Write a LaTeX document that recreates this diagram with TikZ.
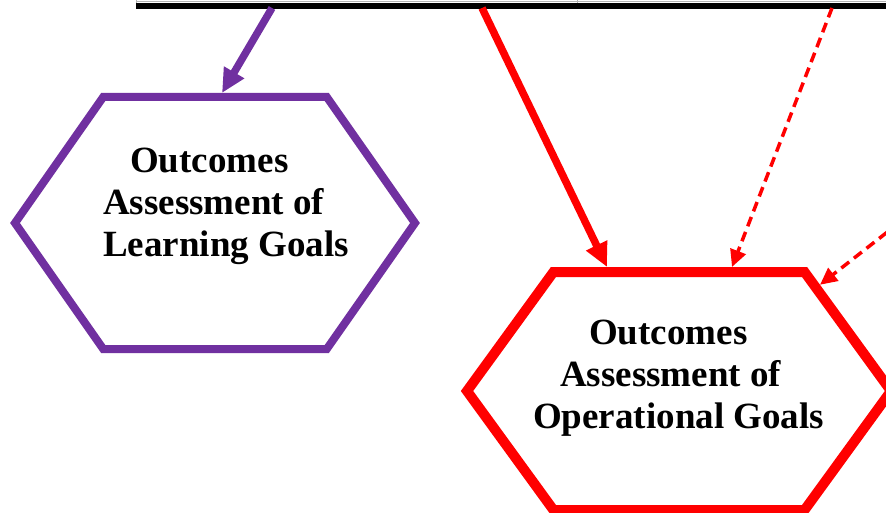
\documentclass[tikz,border=0pt]{standalone}
\usepackage{fontspec}
\setmainfont{Liberation Serif}
\usetikzlibrary{shapes.symbols,arrows.meta,positioning,calc}
\definecolor{goalpurple}{HTML}{7030A0}
\definecolor{goalred}{HTML}{FF0000}
\tikzset{
  hexa/.style = {signal, signal to=east and west, inner sep=0pt, fill=white},
  txt/.style = {font=\fontsize{37}{42}\selectfont\bfseries, align=left, inner sep=0pt, anchor=west},
  arrow/.style = {line width=7.5pt, -{Triangle[length=24pt,width=22pt]}},
  darrow/.style = {line width=3.5pt, dash pattern=on 10pt off 6pt, -{Triangle[length=17pt,width=16pt]}}
}

\begin{document}
\begin{tikzpicture}[x=1pt, y=-1pt]
  \useasboundingbox (0,0) rectangle (886,513);
  \clip (0,0) rectangle (886,513);

  % table the arrows come out of
  \node[draw=gray!60, line width=0.8pt, anchor=south west, minimum width=800pt, minimum height=60pt, inner sep=0pt] (plan) at (136,9) {};
  \draw[gray!60, line width=0.8pt] (577,-60) -- (577,3);
  \draw[gray!60, line width=0.8pt] (136,1) -- (936,1);
  \draw[line width=6pt] (136,6) -- (936,6);

  % goal hexagons
  \node[hexa, draw=goalpurple, line width=8pt, signal pointer angle=110, minimum width=400pt, minimum height=252pt] (learn) at (215,223) {};
  \node[hexa, draw=goalred, line width=10pt, signal pointer angle=108, minimum width=424pt, minimum height=238pt] (oper) at (679,391) {};

  \node[txt] (learntxt) at (103,206) {\hspace*{27pt}Outcomes\\Assessment of\\Learning Goals};
  \node[txt] (opertxt) at (533,378) {\hspace*{56pt}Outcomes\\\hspace*{27pt}Assessment of\\Operational Goals};

  \coordinate (far) at (950,183);

  \draw[arrow, goalpurple] ($(plan.south west)+(136,-1)$) -- ($(learn.north)+(7,0)$);
  \draw[arrow, goalred] ($(plan.south west)+(346,-1)$) -- ($(oper.north)+(-72,0)$);
  \draw[darrow, goalred] ($(plan.south west)+(696,-1)$) -- ($(oper.north)+(53,0)$);
  \draw[darrow, goalred] (far) -- (oper.37);
\end{tikzpicture}
\end{document}
